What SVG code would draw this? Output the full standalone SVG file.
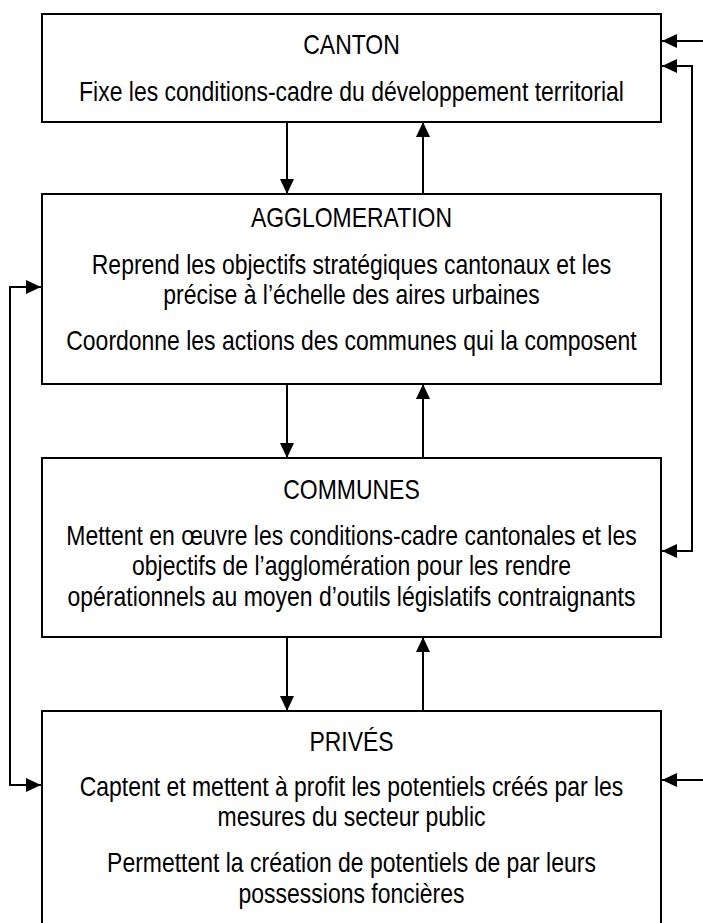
<svg xmlns="http://www.w3.org/2000/svg" width="703" height="923" viewBox="0 0 703 923">
<defs>
<marker id="ah" markerWidth="16" markerHeight="14" refX="15" refY="7" orient="auto" markerUnits="userSpaceOnUse">
<path d="M0,0 L15,7 L0,14 Z" fill="#000"/>
</marker>
<marker id="ahs" markerWidth="16" markerHeight="14" refX="0" refY="7" orient="auto" markerUnits="userSpaceOnUse">
<path d="M15,0 L0,7 L15,14 Z" fill="#000"/>
</marker>
<style>
.box{fill:#fff;stroke:#000;stroke-width:2}
.t{font-family:"Liberation Sans",Arial,sans-serif;font-size:27.5px;fill:#000;text-anchor:middle}
.c{fill:none;stroke:#000;stroke-width:2}
</style>
</defs>
<rect width="703" height="923" fill="#fff"/>
<g id="canton">
<rect class="box" x="42" y="14" width="619" height="108"/>
<text class="t" transform="translate(351.5,54) scale(0.835,1)">CANTON</text>
<text class="t" transform="translate(351.5,101) scale(0.835,1)">Fixe les conditions-cadre du développement territorial</text>
</g>
<g id="agglomeration">
<rect class="box" x="42" y="194" width="619" height="190"/>
<text class="t" transform="translate(351.5,227) scale(0.835,1)">AGGLOMERATION</text>
<text class="t" transform="translate(351.5,274) scale(0.835,1)">Reprend les objectifs stratégiques cantonaux et les</text>
<text class="t" transform="translate(351.5,304) scale(0.835,1)">précise à l’échelle des aires urbaines</text>
<text class="t" transform="translate(351.5,350) scale(0.835,1)">Coordonne les actions des communes qui la composent</text>
</g>
<g id="communes">
<rect class="box" x="42" y="458" width="619" height="179"/>
<text class="t" transform="translate(351.5,499) scale(0.835,1)">COMMUNES</text>
<text class="t" transform="translate(351.5,545) scale(0.835,1)">Mettent en œuvre les conditions-cadre cantonales et les</text>
<text class="t" transform="translate(351.5,575) scale(0.835,1)">objectifs de l’agglomération pour les rendre</text>
<text class="t" transform="translate(351.5,606) scale(0.835,1)">opérationnels au moyen d’outils législatifs contraignants</text>
</g>
<g id="prives">
<rect class="box" x="42" y="711" width="619" height="220"/>
<text class="t" transform="translate(351.5,751) scale(0.835,1)">PRIVÉS</text>
<text class="t" transform="translate(351.5,796) scale(0.835,1)">Captent et mettent à profit les potentiels créés par les</text>
<text class="t" transform="translate(351.5,826) scale(0.835,1)">mesures du secteur public</text>
<text class="t" transform="translate(351.5,872) scale(0.835,1)">Permettent la création de potentiels de par leurs</text>
<text class="t" transform="translate(351.5,903) scale(0.835,1)">possessions foncières</text>
</g>
<g id="connectors">
<line class="c" x1="287" y1="122" x2="287" y2="194" marker-end="url(#ah)"/>
<line class="c" x1="423" y1="194" x2="423" y2="122" marker-end="url(#ah)"/>
<line class="c" x1="287" y1="384" x2="287" y2="458" marker-end="url(#ah)"/>
<line class="c" x1="423" y1="458" x2="423" y2="384" marker-end="url(#ah)"/>
<line class="c" x1="287" y1="637" x2="287" y2="711" marker-end="url(#ah)"/>
<line class="c" x1="423" y1="711" x2="423" y2="637" marker-end="url(#ah)"/>
<line class="c" x1="703" y1="41" x2="662" y2="41" marker-end="url(#ah)"/>
<line class="c" x1="703" y1="780" x2="662" y2="780" marker-end="url(#ah)"/>
<polyline class="c" points="662,66 692,66 692,551 662,551" marker-start="url(#ahs)" marker-end="url(#ah)"/>
<polyline class="c" points="41,287 10,287 10,785 41,785" marker-start="url(#ahs)" marker-end="url(#ah)"/>
</g>
</svg>
